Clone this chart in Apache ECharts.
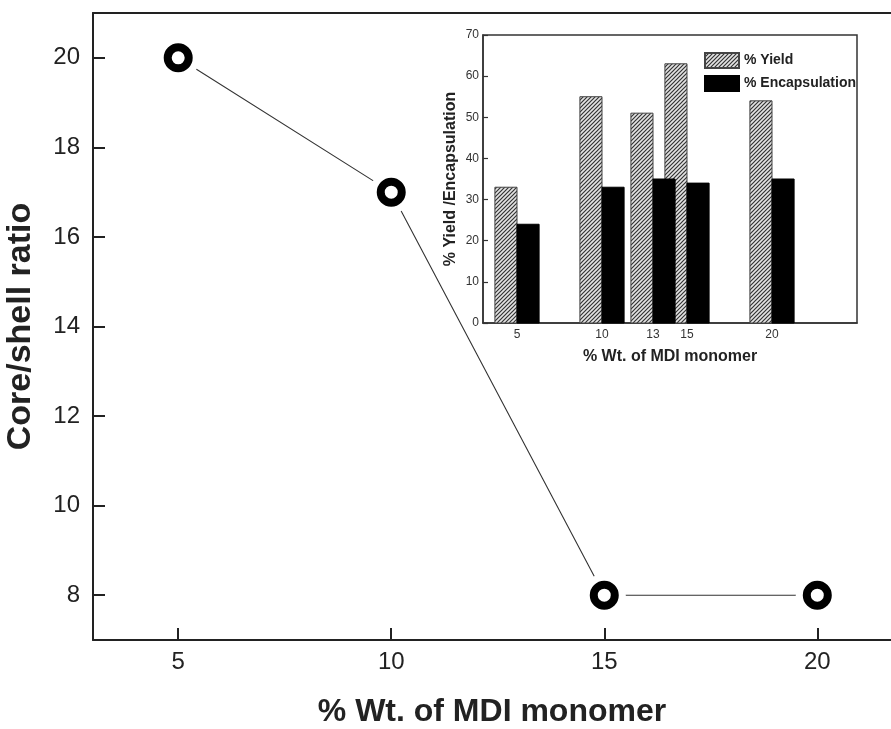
<!DOCTYPE html>
<html>
<head>
<meta charset="utf-8">
<script src="https://cdn.jsdelivr.net/npm/echarts@6/dist/echarts.min.js"></script>
<style>
html,body{margin:0;padding:0;background:#fff;}
#chart{width:891px;height:729px;}
</style>
</head>
<body>
<div id="chart"></div>
<script>
// ---- data ----
const mainX = [5, 10, 15, 20];
const coreShellRatio = [20, 17, 8, 8];
const mainXTickValues = [5, 10, 15, 20];
const mainYTickValues = [8, 10, 12, 14, 16, 18, 20];

const insetX = [5, 10, 13, 15, 20];
const yieldPct = [33, 55, 51, 63, 54];
const encapPct = [24, 33, 35, 34, 35];
const insetXTickValues = [5, 10, 13, 15, 20];

const seriesNames = ['% Yield', '% Encapsulation'];
const mainXTitle = '% Wt. of MDI monomer';
const mainYTitle = 'Core/shell ratio';
const insetXTitle = '% Wt. of MDI monomer';
const insetYTitle = '% Yield /Encapsulation';

// ---- hatch pattern ----
function makeHatch() {
  const c = document.createElement('canvas');
  c.width = 4; c.height = 4;
  const g = c.getContext('2d');
  g.fillStyle = '#e4e4e4';
  g.fillRect(0, 0, 4, 4);
  g.strokeStyle = '#333';
  g.lineWidth = 1.2;
  g.beginPath();
  g.moveTo(-1, 5); g.lineTo(5, -1);
  g.moveTo(-3, 3); g.lineTo(3, -3);
  g.moveTo(1, 7); g.lineTo(7, 1);
  g.stroke();
  return c;
}
const hatch = { image: makeHatch(), repeat: 'repeat' };

const FONT = 'Liberation Sans, Arial, sans-serif';
const BAR_W = 1.3; // bar width in x-axis units

function barRenderer(offsetFactor) {
  return function (params, api) {
    const xv = api.value(0), yv = api.value(1);
    const base = api.coord([xv, 0]);
    const top = api.coord([xv, yv]);
    const w = api.size([BAR_W, 0])[0];
    return {
      type: 'rect',
      shape: { x: base[0] + offsetFactor * w, y: top[1], width: w, height: base[1] - top[1] },
      style: api.style()
    };
  };
}

const chart = echarts.init(document.getElementById('chart'), null, { renderer: 'canvas' });

const option = {
  animation: false,
  backgroundColor: '#fff',
  textStyle: { fontFamily: FONT },
  grid: [
    { left: 93, right: 0, top: 13, bottom: 89, outerBoundsMode: 'none', containLabel: false },
    { left: 483, right: 34, top: 35, bottom: 406, outerBoundsMode: 'none', containLabel: false,
      show: true, borderColor: '#333', borderWidth: 1.5, backgroundColor: '#fff', z: 5 }
  ],
  legend: {
    orient: 'vertical',
    left: 699, top: 47,
    itemWidth: 34, itemHeight: 15, itemGap: 6,
    icon: 'rect',
    data: seriesNames,
    textStyle: { fontFamily: FONT, fontSize: 14, fontWeight: 'bold', color: '#222' },
    z: 10
  },
  xAxis: [
    {
      type: 'value', gridIndex: 0, min: 3, max: 21.73,
      splitLine: { show: false },
      axisLine: { lineStyle: { color: '#222', width: 2 } },
      axisTick: { inside: true, length: 12, customValues: mainXTickValues, lineStyle: { color: '#222', width: 2 } },
      axisLabel: { customValues: mainXTickValues, fontSize: 24, color: '#222', margin: 10, fontFamily: FONT },
      name: mainXTitle, nameLocation: 'middle', nameGap: 56,
      nameTextStyle: { fontSize: 32, fontWeight: 'bold', color: '#222', fontFamily: FONT }
    },
    {
      type: 'value', gridIndex: 1, min: 3, max: 25,
      splitLine: { show: false },
      axisLine: { lineStyle: { color: '#333', width: 1.5 } },
      axisTick: { show: false },
      axisLabel: { customValues: insetXTickValues, fontSize: 12, color: '#333', margin: 6, fontFamily: FONT },
      name: insetXTitle, nameLocation: 'middle', nameGap: 26,
      nameTextStyle: { fontSize: 16, fontWeight: 'bold', color: '#222', fontFamily: FONT },
      z: 6
    },
    {
      type: 'value', gridIndex: 0, position: 'top', min: 3, max: 21.73,
      splitLine: { show: false },
      axisLine: { lineStyle: { color: '#222', width: 2 } },
      axisTick: { show: false },
      axisLabel: { show: false }
    }
  ],
  yAxis: [
    {
      type: 'value', gridIndex: 0, min: 7, max: 21,
      splitLine: { show: false },
      axisLine: { lineStyle: { color: '#222', width: 2 } },
      axisTick: { inside: true, length: 12, customValues: mainYTickValues, lineStyle: { color: '#222', width: 2 } },
      axisLabel: { customValues: mainYTickValues, fontSize: 24, color: '#222', margin: 13, fontFamily: FONT },
      name: mainYTitle, nameLocation: 'middle', nameGap: 55,
      nameTextStyle: { fontSize: 34, fontWeight: 'bold', color: '#222', fontFamily: FONT }
    },
    {
      type: 'value', gridIndex: 1, min: 0, max: 70, interval: 10,
      splitLine: { show: false },
      axisLine: { lineStyle: { color: '#333', width: 1.5 } },
      axisTick: { inside: true, length: 5, lineStyle: { color: '#333', width: 1.2 } },
      axisLabel: { fontSize: 12, color: '#333', margin: 4, fontFamily: FONT },
      name: insetYTitle, nameLocation: 'middle', nameGap: 24,
      nameTextStyle: { fontSize: 16, fontWeight: 'bold', color: '#222', fontFamily: FONT },
      z: 6
    }
  ],
  series: [
    {
      type: 'line', xAxisIndex: 0, yAxisIndex: 0,
      data: mainX.map((x, i) => [x, coreShellRatio[i]]),
      symbol: 'circle', symbolSize: 43, showSymbol: true,
      itemStyle: { color: '#fff', borderWidth: 0 },
      lineStyle: { color: '#333', width: 1.1 },
      z: 2, silent: true
    },
    {
      type: 'scatter', xAxisIndex: 0, yAxisIndex: 0,
      data: mainX.map((x, i) => [x, coreShellRatio[i]]),
      symbol: 'circle', symbolSize: 21,
      itemStyle: { color: '#fff', borderColor: '#000', borderWidth: 8, opacity: 1 },
      z: 3, silent: true
    },
    {
      name: seriesNames[0], type: 'custom', xAxisIndex: 1, yAxisIndex: 1,
      data: insetX.map((x, i) => [x, yieldPct[i]]),
      renderItem: barRenderer(-1),
      itemStyle: { color: hatch, borderColor: '#444', borderWidth: 1 },
      encode: { x: 0, y: 1 },
      z: 7
    },
    {
      name: seriesNames[1], type: 'custom', xAxisIndex: 1, yAxisIndex: 1,
      data: insetX.map((x, i) => [x, encapPct[i]]),
      renderItem: barRenderer(0),
      itemStyle: { color: '#000', borderColor: '#000', borderWidth: 1 },
      encode: { x: 0, y: 1 },
      z: 8
    }
  ]
};
chart.setOption(option);
</script>
</body>
</html>
